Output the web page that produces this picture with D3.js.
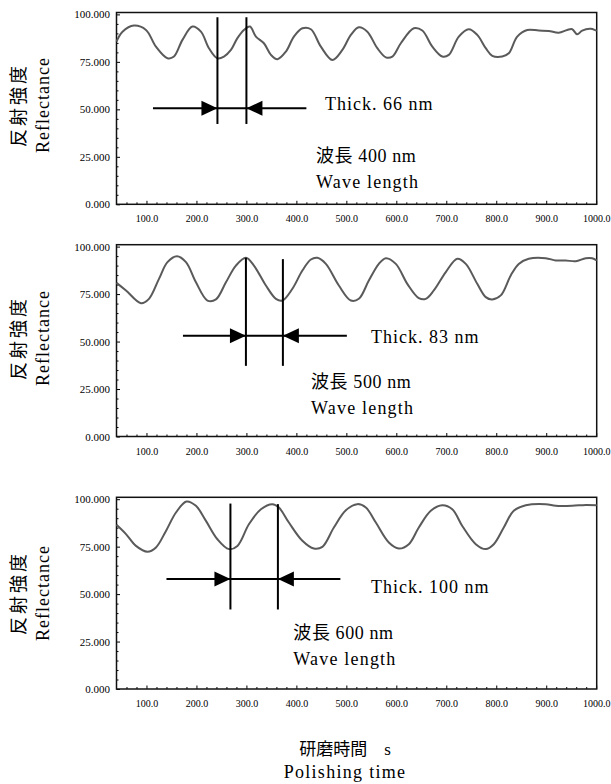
<!DOCTYPE html>
<html>
<head>
<meta charset="utf-8">
<script src="https://cdn.jsdelivr.net/npm/d3@7"></script>
<style>
  body { margin: 0; background: #fff; }
  svg { display: block; background: #fff; }
  .tick text { font-family: "Liberation Serif", serif; font-size: 10px; fill: #000; }
  .yax .tick text { font-size: 11px; }
  .tick line { stroke: #000; stroke-width: 1; }
  .lbl { font-family: "Liberation Serif", "Noto Sans CJK JP", serif; fill: #000; }
</style>
</head>
<body>
<svg id="chart" width="611" height="784"></svg>
<script>
// polishing time (s) vs reflectance, one series per wave length
const time400 = [40,52,75,99,119,142,155,172,192,209,225,242,255,269,282,295,307,319,335,349,362,379,395,412,429,449,472,492,509,525,542,562,579,592,609,635,652,672,692,705,725,745,762,779,792,812,825,842,862,885,905,925,942,952,962,972,989,1001];
const refl400 = [85.7,90.9,94.1,91.8,83.0,76.9,77.8,86.6,93.6,90.9,82.2,76.9,77.8,81.3,87.5,91.8,93.6,88.3,84.8,78.7,76.4,80.4,88.3,92.7,92.2,83.0,76.0,81.3,89.2,93.2,90.9,82.2,77.4,77.8,84.8,92.7,91.5,83.0,77.8,78.7,88.3,92.2,89.2,82.2,78.2,77.8,79.5,88.3,91.8,91.5,91.3,90.4,91.8,92.2,89.5,91.5,92.4,91.3];

const time500 = [40,59,89,105,125,142,161,179,199,222,239,259,279,299,315,339,359,372,392,412,429,442,459,485,509,525,545,565,579,599,622,645,659,675,699,722,739,762,779,792,809,829,845,865,899,919,939,959,979,992,1001];
const refl500 = [80.9,76.9,70.2,72.5,83.0,91.8,94.9,91.8,81.2,71.6,72.2,81.2,90.0,94.1,90.0,79.5,72.5,71.6,77.8,87.4,93.2,94.1,90.9,79.5,71.6,72.5,82.1,90.9,93.9,90.9,80.4,72.9,72.5,76.9,86.6,93.6,90.9,80.4,73.4,72.2,74.3,84.8,90.9,93.6,93.9,92.7,92.7,92.3,93.9,93.9,92.7];

const time600 = [40,59,79,102,119,139,159,180,199,219,242,265,282,305,329,352,365,385,412,435,452,475,499,522,539,559,585,605,625,645,669,692,712,732,759,779,795,815,835,859,899,919,952,979,1001];
const refl600 = [86.5,81.6,75.4,72.3,74.6,83.3,93.0,98.8,96.5,88.6,78.9,73.7,75.4,86.8,94.7,97.4,95.6,87.7,78.1,74.0,74.9,85.1,94.2,97.4,95.6,87.7,77.2,74.0,76.3,85.1,93.9,96.8,94.7,85.9,76.3,73.7,76.3,85.1,93.9,96.8,97.4,96.5,96.5,97.0,96.8];

const waveLengths = [400, 500, 600];
const thickness = [66, 83, 100];

// thickness markers: min / max times, top of each line, bottom, arrow level and ends
const markTimes = [[242, 300], [299, 373], [268, 363]];
const markTop = [[98.5, 98.5], [94.1, 93.4], [97.7, 97.4]];
const markBottom = [42.3, 37.2, 41.9];
const arrowLevel = [50.6, 53.0, 57.9];
const arrowFrom = [113, 173, 140];
const arrowTo = [420, 501, 488];

const xTicks = [100, 200, 300, 400, 500, 600, 700, 800, 900, 1000];
const xMinor = d3.range(60, 1001, 20).filter(d => d % 100 !== 0);
const yTicks = [0, 25, 50, 75, 100];
const yMinor = d3.range(5, 100, 5).filter(d => d % 25 !== 0);

const series = [
  time400.map((t, i) => [t, refl400[i]]),
  time500.map((t, i) => [t, refl500[i]]),
  time600.map((t, i) => [t, refl600[i]])
];

const svg = d3.select("#chart");
const left = 116.5, right = 596.7;

// panel layout (pixels)
const panels = [
  { top: 12.5, bottom: 204.3, labelY: 105, thick: [325, 110.3], wave: [316, 161.7, 188.3] },
  { top: 244.7, bottom: 436.5, labelY: 338, thick: [371, 342.7], wave: [311, 388.3, 414] },
  { top: 497.3, bottom: 689, labelY: 593, thick: [371, 593.3], wave: [293.3, 639.3, 665] }
];

const x = d3.scaleLinear().domain([40, 1001]).range([left, right]);

const line = d3.line()
  .x(d => x(d[0]))
  .y(d => d.y)
  .curve(d3.curveCatmullRom.alpha(0.5));

panels.forEach((p, k) => {
  const y = d3.scaleLinear().domain([0, 101]).range([p.bottom, p.top]);
  const g = svg.append("g");

  // minor ticks
  g.append("g")
    .attr("transform", "translate(0," + p.bottom + ")")
    .call(d3.axisBottom(x).tickValues(xMinor).tickSize(-2).tickFormat(""))
    .call(a => a.select(".domain").remove());
  g.append("g")
    .attr("transform", "translate(" + left + ",0)")
    .call(d3.axisLeft(y).tickValues(yMinor).tickSize(-2).tickFormat(""))
    .call(a => a.select(".domain").remove());

  // major ticks + labels
  g.append("g")
    .attr("transform", "translate(0," + p.bottom + ")")
    .call(d3.axisBottom(x).tickValues(xTicks).tickSize(-3.5).tickPadding(11).tickFormat(d3.format(".1f")))
    .call(a => a.select(".domain").remove());
  g.append("g")
    .attr("class", "yax")
    .attr("transform", "translate(" + left + ",0)")
    .call(d3.axisLeft(y).tickValues(yTicks).tickSize(-3.5).tickPadding(6.5).tickFormat(d3.format(".3f")))
    .call(a => a.select(".domain").remove());

  // frame
  g.append("rect")
    .attr("x", left).attr("y", p.top)
    .attr("width", right - left).attr("height", p.bottom - p.top)
    .attr("fill", "none").attr("stroke", "#111").attr("stroke-width", 1.5);

  // reflectance curve
  const pts = series[k].map(d => Object.assign([d[0], d[1]], { y: y(d[1]) }));
  g.append("path")
    .attr("d", line(pts))
    .attr("fill", "none")
    .attr("stroke", "#5a5a5a")
    .attr("stroke-width", 2);

  // thickness markers
  markTimes[k].forEach((t, j) => {
    g.append("line")
      .attr("x1", x(t)).attr("x2", x(t))
      .attr("y1", y(markTop[k][j])).attr("y2", y(markBottom[k]))
      .attr("stroke", "#000").attr("stroke-width", 2);
  });
  const ay = y(arrowLevel[k]);
  g.append("line")
    .attr("x1", x(arrowFrom[k])).attr("x2", x(arrowTo[k]))
    .attr("y1", ay).attr("y2", ay)
    .attr("stroke", "#000").attr("stroke-width", 2);
  const t0 = x(markTimes[k][0]), t1 = x(markTimes[k][1]);
  g.append("path")
    .attr("d", "M" + t0 + "," + ay + "L" + (t0 - 16) + "," + (ay - 7.5) + "L" + (t0 - 16) + "," + (ay + 7.5) + "Z")
    .attr("fill", "#000");
  g.append("path")
    .attr("d", "M" + t1 + "," + ay + "L" + (t1 + 16) + "," + (ay - 7.5) + "L" + (t1 + 16) + "," + (ay + 7.5) + "Z")
    .attr("fill", "#000");

  // annotations
  g.append("text").attr("class", "lbl")
    .attr("x", p.thick[0]).attr("y", p.thick[1])
    .style("font-size", "18px").style("letter-spacing", "1px")
    .text("Thick. " + thickness[k] + " nm");
  g.append("text").attr("class", "lbl")
    .attr("x", p.wave[0]).attr("y", p.wave[1])
    .style("font-size", "18px").style("letter-spacing", "0.6px")
    .text("波長 " + waveLengths[k] + " nm");
  g.append("text").attr("class", "lbl")
    .attr("x", p.wave[0]).attr("y", p.wave[2])
    .style("font-size", "18px").style("letter-spacing", "1.2px")
    .text("Wave length");

  // y axis title
  g.append("text").attr("class", "lbl")
    .attr("transform", "translate(25," + p.labelY + ") rotate(-90)")
    .attr("text-anchor", "middle")
    .style("font-size", "18px")
    .style("letter-spacing", "3px")
    .text("反射強度");
  g.append("text").attr("class", "lbl")
    .attr("transform", "translate(49," + p.labelY + ") rotate(-90)")
    .attr("text-anchor", "middle")
    .style("font-size", "18px")
    .style("letter-spacing", "1px")
    .text("Reflectance");
});

// x axis title
svg.append("text").attr("class", "lbl")
  .attr("x", 345).attr("y", 755)
  .attr("text-anchor", "middle")
  .style("font-size", "17px")
  .text("研磨時間　s");
svg.append("text").attr("class", "lbl")
  .attr("x", 345).attr("y", 778)
  .attr("text-anchor", "middle")
  .style("font-size", "18px").style("letter-spacing", "1.3px")
  .text("Polishing time");
</script>
</body>
</html>
